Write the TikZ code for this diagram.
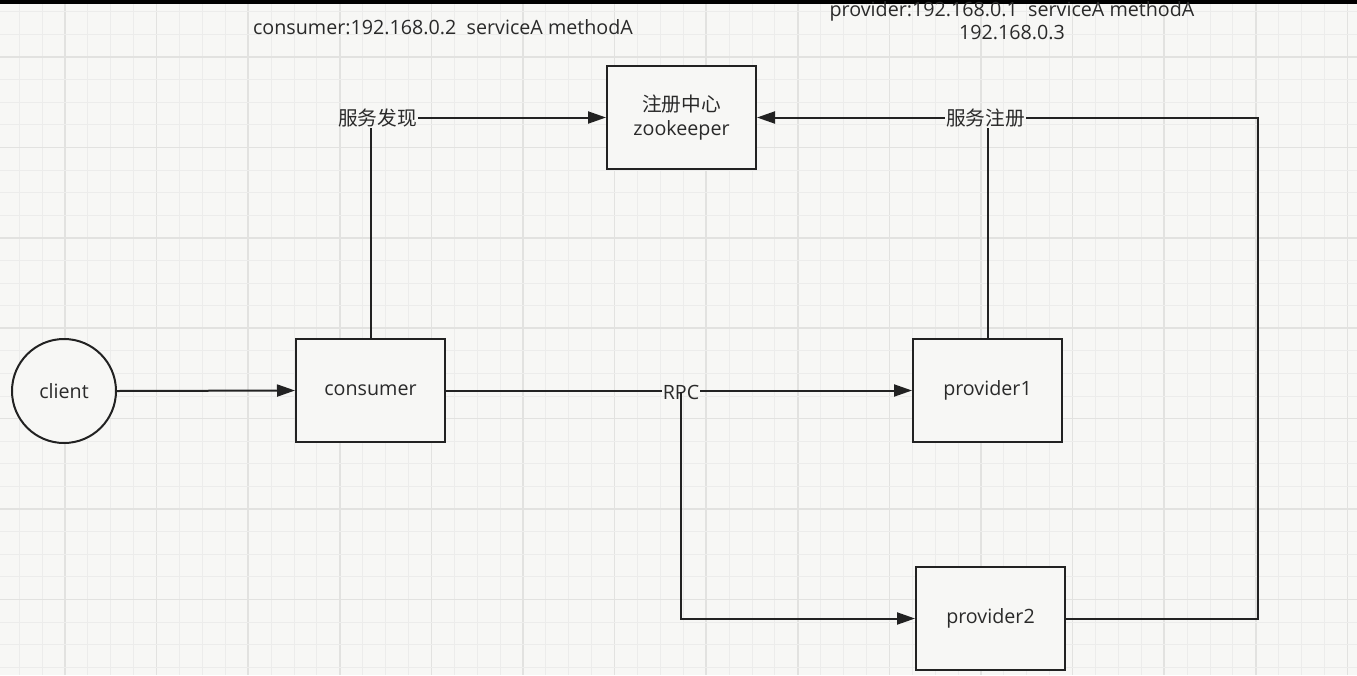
\documentclass[tikz,border=0pt]{standalone}
\usepackage{fontspec}
\setmainfont{Open Sans}
\newfontfamily\cjk{Noto Sans CJK SC}
\usetikzlibrary{arrows.meta}
\definecolor{bg}{HTML}{F7F7F5}
\definecolor{gminor}{HTML}{ECECEB}
\definecolor{gmajor}{HTML}{E2E2E0}
\definecolor{ink}{HTML}{222222}
\definecolor{txt}{HTML}{2A2A2A}
\begin{document}
\begin{tikzpicture}[x=1pt,y=-1pt,
  box/.style={draw=ink, line width=2pt, fill=bg, minimum width=149pt, minimum height=103pt, inner sep=0pt, align=center, font=\fontsize{19.7}{24}\selectfont, text=txt},
  circ/.style={draw=ink, line width=2pt, fill=bg, circle, minimum size=104pt, inner sep=0pt, font=\fontsize{19.7}{24}\selectfont, text=txt},
  lbl/.style={inner sep=1pt, font=\fontsize{19.7}{23}\selectfont, text=txt, align=center},
  conn/.style={draw=ink, line width=2pt},
  arr/.style={conn, -{Triangle[length=18pt,width=12pt]}}]
\useasboundingbox (0,0) rectangle (1357,675);
\fill[bg] (0,0) rectangle (1357,675);
\foreach \i in {0,...,59} {\draw[gminor, line width=1pt] ({19.2+22.9*\i},0) -- ++(0,675);}
\foreach \i in {0,...,14} {\draw[gmajor, line width=1.5pt] ({65+91.6*\i},0) -- ++(0,675);}
\foreach \i in {0,...,29} {\draw[gminor, line width=1pt] (0,{11.8+22.6*\i}) -- ++(1357,0);}
\foreach \i in {0,...,7} {\draw[gmajor, line width=1.5pt] (0,{57+90.4*\i}) -- ++(1357,0);}
\fill[black] (0,0) rectangle (1357,4);

\node[circ] (client) at (64,391) {client};
\node[box] (consumer) at (370.5,390.5) {consumer};
\node[box] (zk) at (681.5,117.5) {{\cjk 注册中心}\\zookeeper};
\node[box] (p1) at (987.5,390.5) {provider1};
\node[box] (p2) at (990.5,618.5) {provider2};

\node[lbl] (disc) at (377.5,118) {\cjk 服务发现};
\node[lbl] (reg) at (985.5,118) {\cjk 服务注册};
\node[lbl] (rpc) at (681,392) {RPC};
\node[lbl] (t1) at (443,27) {consumer:192.168.0.2\ \ serviceA methodA};
\node[lbl] (t2) at (1012,21) {provider:192.168.0.1\ \ serviceA methodA\\192.168.0.3};

\coordinate (c2) at (1258,618.5);
\coordinate (c1) at (1258,117.5);

\draw[arr] (client.east) -- (consumer.west);
\draw[conn] (consumer.north) -- (consumer.north |- disc.south);
\draw[arr] (disc.east |- zk.west) -- (zk.west);
\draw[conn] (p1.north) -- (p1.north |- reg.south);
\draw[arr] (reg.west |- zk.east) -- (zk.east);
\draw[conn] (p2.east) -- (c2) -- (c1) -- (c1 -| reg.east);
\draw[conn] (consumer.east) -- (consumer.east -| rpc.west);
\draw[arr] (p1.west -| rpc.east) -- (p1.west);
\draw[arr] (rpc.center) -- (rpc.center |- p2.west) -- (p2.west);
\end{tikzpicture}
\end{document}
